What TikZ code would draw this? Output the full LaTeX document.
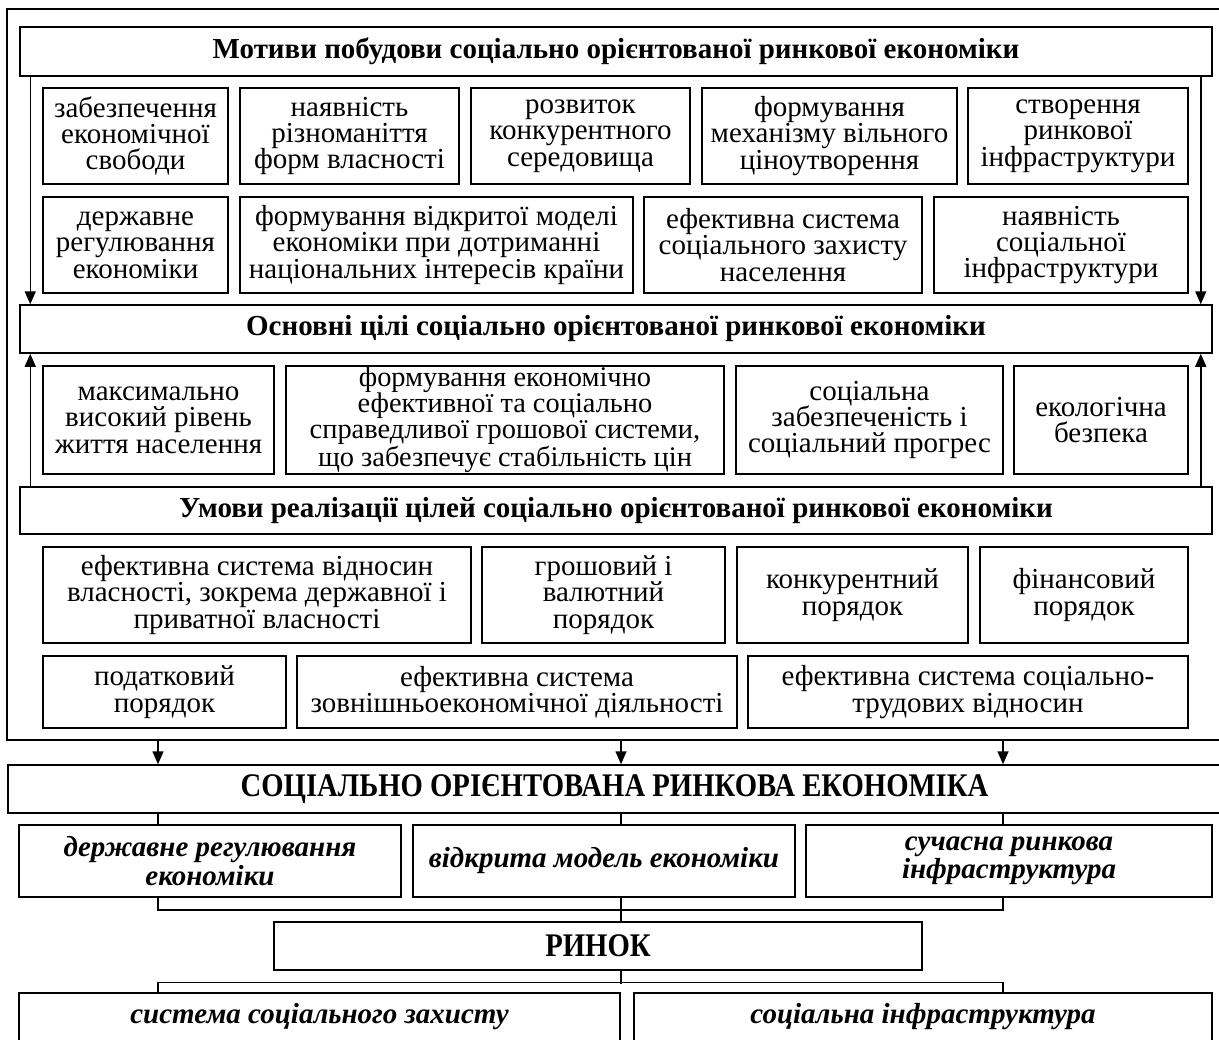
\documentclass[tikz,border=0pt]{standalone}
\usepackage{fontspec}
\setmainfont{Liberation Serif}
\newfontfamily\condfont{Liberation Serif}[FakeStretch=0.87]
\usetikzlibrary{arrows.meta}
% box from its corners: [style]{name}{x1}{y1}{x2}{y2}{text}
\newcommand{\mkbox}[7][box]{\node[#1, minimum width={(#5-#3)*0.5pt},
    minimum height={(#6-#4)*0.5pt}] (#2) at ({(#3+#5)/2},{(#4+#6)/2}) {#7};}

\begin{document}
\begin{tikzpicture}[x=0.5pt, y=-0.5pt,
  box/.style={draw, line width=0.75pt, align=center, inner sep=0pt,
    font=\fontsize{14.5}{13.2}\selectfont},
  head/.style={box, font=\bfseries\fontsize{14.5}{14}\selectfont},
  big/.style={box, font=\condfont\bfseries\fontsize{16.5}{16}\selectfont},
  ital/.style={box, font=\bfseries\itshape\fontsize{14.5}{13}\selectfont},
  arr/.style={-{Triangle[length=6.5pt,width=5.5pt]}, line width=0.75pt},
  link/.style={line width=0.75pt}]
    \useasboundingbox (0,0) rectangle (1219,1039);

    % outer frame
    \draw[link] (1225,9) -- (7,9) -- (7,740) -- (1225,740);

    % motives
    \mkbox[head]{mot}{20}{27}{1212}{76}{Мотиви побудови соціально орієнтованої ринкової економіки}
    \mkbox{m1}{43}{88}{228}{184}{забезпечення\\економічної\\свободи}
    \mkbox{m2}{240}{88}{459}{184}{наявність\\різноманіття\\форм власності}
    \mkbox{m3}{471}{88}{690}{184}{розвиток\\конкурентного\\середовища}
    \mkbox{m4}{702}{88}{957}{184}{формування\\механізму вільного\\ціноутворення}
    \mkbox{m5}{968}{88}{1188}{184}{створення\\ринкової\\інфраструктури}
    \mkbox{m6}{43}{197}{228}{293}{державне\\регулювання\\економіки}
    \mkbox{m7}{240}{197}{633}{293}{формування відкритої моделі\\економіки при дотриманні\\національних інтересів країни}
    \mkbox{m8}{644}{197}{922}{293}{ефективна система\\соціального захисту\\населення}
    \mkbox{m9}{934}{197}{1188}{293}{наявність\\соціальної\\інфраструктури}

    % goals
    \mkbox[head]{goal}{20}{305}{1212}{353}{Основні цілі соціально орієнтованої ринкової економіки}
    \mkbox{g1}{43}{366}{274}{474}{максимально\\високий рівень\\життя населення}
    \mkbox[box, font=\fontsize{14.2}{13}\selectfont]{g2}{286}{366}{724}{474}{формування економічно\\ефективної та соціально\\справедливої грошової системи,\\що забезпечує стабільність цін}
    \mkbox{g3}{736}{366}{1003}{474}{соціальна\\забезпеченість і\\соціальний прогрес}
    \mkbox{g4}{1014}{366}{1188}{474}{екологічна\\безпека}

    % conditions
    \mkbox[head]{cond}{20}{487}{1212}{534}{Умови реалізації цілей соціально орієнтованої ринкової економіки}
    \mkbox{c1}{43}{547}{471}{643}{ефективна система відносин\\власності, зокрема державної і\\приватної власності}
    \mkbox{c2}{482}{547}{725}{643}{грошовий і\\валютний\\порядок}
    \mkbox{c3}{737}{547}{968}{643}{конкурентний\\порядок}
    \mkbox{c4}{980}{547}{1188}{643}{фінансовий\\порядок}
    \mkbox{c5}{43}{656}{286}{728}{податковий\\порядок}
    \mkbox{c6}{297}{656}{737}{728}{ефективна система\\зовнішньоекономічної діяльності}
    \mkbox{c7}{748}{656}{1188}{728}{ефективна система соціально-\\трудових відносин}

    \draw[arr] ([xshift=5.5pt]mot.south west) -- ([xshift=5.5pt]goal.north west);
    \draw[arr] ([xshift=-6pt]mot.south east) -- ([xshift=-6pt]goal.north east);
    \draw[arr] ([xshift=5.5pt]cond.north west) -- ([xshift=5.5pt]goal.south west);
    \draw[arr] ([xshift=-6pt]cond.north east) -- ([xshift=-6pt]goal.south east);

    % the economy
    \mkbox[big]{soe}{8}{765}{1221}{813}{СОЦІАЛЬНО ОРІЄНТОВАНА РИНКОВА ЕКОНОМІКА}
    \mkbox[ital]{s1}{19}{825}{401}{897}{державне регулювання\\економіки}
    \mkbox[ital]{s2}{413}{825}{795}{897}{відкрита модель економіки}
    \mkbox[ital]{s3}{806}{825}{1212}{897}{сучасна ринкова\\інфраструктура}
    \mkbox[big]{rynok}{274}{922}{922}{970}{РИНОК}
    \mkbox[ital]{b1}{19}{993}{620}{1041}{система соціального захисту}
    \mkbox[ital]{b2}{634}{993}{1212}{1041}{соціальна інфраструктура}

    \foreach \n/\x in {a/158,b/621,c/1003}
      {\coordinate (f\n) at (\x,740);
       \draw[arr] (f\n) -- (f\n |- soe.north);}
    \draw[link] (fa |- soe.south) -- (fa |- s1.north);
    \draw[link] (fb |- soe.south) -- (fb |- s2.north);
    \draw[link] (fc |- soe.south) -- (fc |- s3.north);

    \draw[link] (fa |- s1.south) -- ++(0,12) -| (fc |- s3.south);
    \draw[link] (fb |- s2.south) -- (fb |- rynok.north);
    \draw[link] (fb |- rynok.south) -- ++(0,13);
    \draw[link] (fa |- b1.north) -- ++(0,-10) -| (fc |- b2.north);

\end{tikzpicture}
\end{document}
